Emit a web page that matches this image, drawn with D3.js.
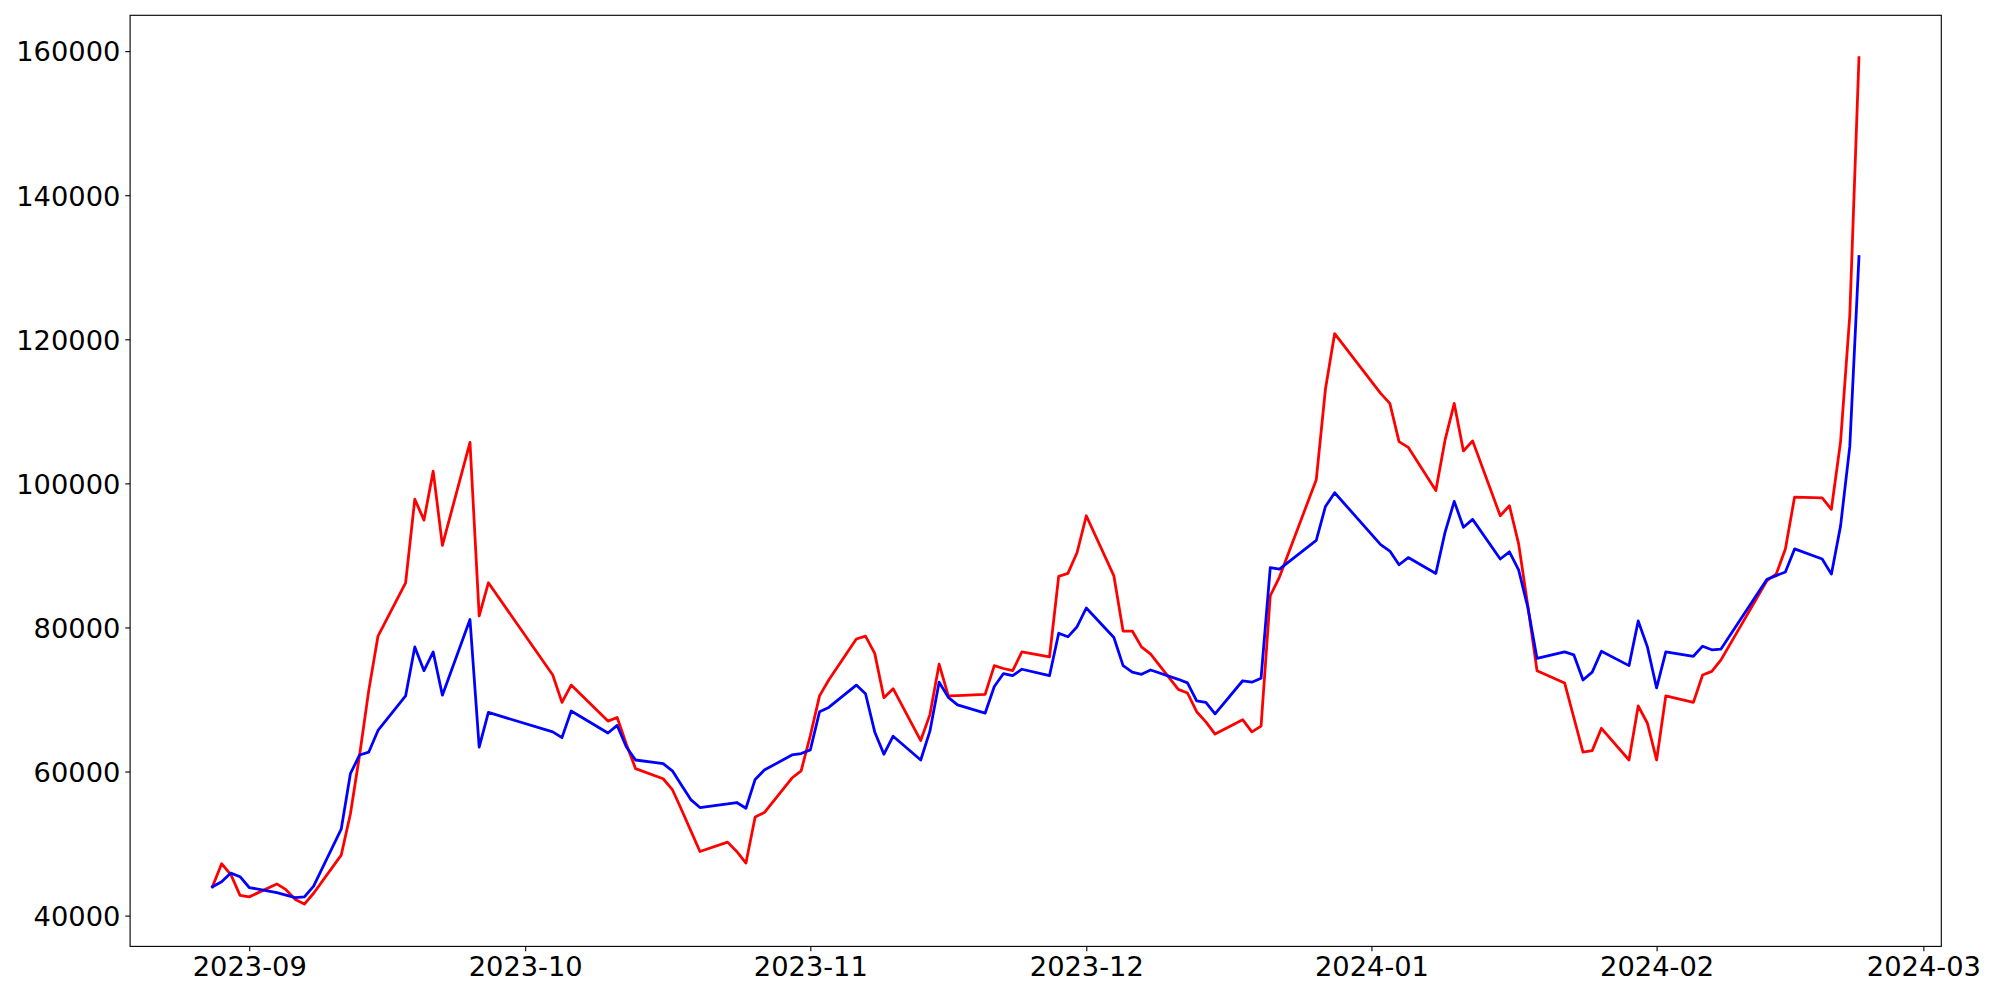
<!DOCTYPE html>
<html>
<head>
<meta charset="utf-8">
<script src="https://cdn.jsdelivr.net/npm/d3@7"></script>
<style>
  html, body { margin: 0; padding: 0; background: #ffffff; }
  svg { display: block; }
</style>
</head>
<body>
<svg id="chart" width="2000" height="1000"></svg>
<script>
// ---- Data (KRX trading days) ----
const dates = [
  "2023-08-28","2023-08-29","2023-08-30","2023-08-31",
  "2023-09-01","2023-09-04","2023-09-05","2023-09-06","2023-09-07","2023-09-08",
  "2023-09-11","2023-09-12","2023-09-13","2023-09-14","2023-09-15",
  "2023-09-18","2023-09-19","2023-09-20","2023-09-21","2023-09-22",
  "2023-09-25","2023-09-26","2023-09-27",
  "2023-10-04","2023-10-05","2023-10-06",
  "2023-10-10","2023-10-11","2023-10-12","2023-10-13",
  "2023-10-16","2023-10-17","2023-10-18","2023-10-19","2023-10-20",
  "2023-10-23","2023-10-24","2023-10-25","2023-10-26","2023-10-27",
  "2023-10-30","2023-10-31","2023-11-01","2023-11-02","2023-11-03",
  "2023-11-06","2023-11-07","2023-11-08","2023-11-09","2023-11-10",
  "2023-11-13","2023-11-14","2023-11-15","2023-11-16","2023-11-17",
  "2023-11-20","2023-11-21","2023-11-22","2023-11-23","2023-11-24",
  "2023-11-27","2023-11-28","2023-11-29","2023-11-30","2023-12-01",
  "2023-12-04","2023-12-05","2023-12-06","2023-12-07","2023-12-08",
  "2023-12-11","2023-12-12","2023-12-13","2023-12-14","2023-12-15",
  "2023-12-18","2023-12-19","2023-12-20","2023-12-21","2023-12-22",
  "2023-12-26","2023-12-27","2023-12-28",
  "2024-01-02","2024-01-03","2024-01-04","2024-01-05",
  "2024-01-08","2024-01-09","2024-01-10","2024-01-11","2024-01-12",
  "2024-01-15","2024-01-16","2024-01-17","2024-01-18","2024-01-19",
  "2024-01-22","2024-01-23","2024-01-24","2024-01-25","2024-01-26",
  "2024-01-29","2024-01-30","2024-01-31","2024-02-01","2024-02-02",
  "2024-02-05","2024-02-06","2024-02-07","2024-02-08",
  "2024-02-13","2024-02-14","2024-02-15","2024-02-16",
  "2024-02-19","2024-02-20","2024-02-21","2024-02-22","2024-02-23"
];

const redValues = [
  44000, 47200, 45700, 42800,
  42600, 44400, 43600, 42250, 41600, 43100,
  48400, 54100, 62300, 71300, 78800,
  86200, 97800, 94900, 101700, 91400,
  105700, 81600, 86200,
  73400, 69600, 72000,
  67000, 67500, 63800, 60400,
  59000, 57500, 54700, 51800, 48900,
  50200, 48900, 47300, 53700, 54300,
  59100, 60100, 65000, 70500, 72700,
  78400, 78800, 76400, 70250, 71500,
  64300, 67900, 74900, 70500, 70550,
  70700, 74700, 74300, 74000, 76600,
  75900, 87100, 87500, 90400, 95500,
  87150, 79500, 79500, 77300, 76300,
  71400, 70900, 68300, 66900, 65200,
  67200, 65500, 66300, 84400, 87000,
  100500, 113100, 120800,
  112500, 111100, 105800, 105000,
  99000, 106000, 111100, 104500, 105900,
  95500, 96900, 91600, 83000, 74000,
  72300, 67500, 62700, 62900, 66000,
  61600, 69100, 66700, 61600, 70500,
  69600, 73400, 73900, 75500,
  86500, 87400, 90900, 98100,
  98000, 96400, 105800, 123300, 159100
];

const blueValues = [
  44000, 44700, 45900, 45400,
  43900, 43200, 42850, 42500, 42600, 44100,
  52000, 59700, 62300, 62700, 65700,
  70500, 77300, 74000, 76600, 70600,
  81100, 63400, 68200,
  65500, 64700, 68400,
  65350, 66400, 63400, 61600,
  61100, 60100, 58100, 56100, 55000,
  55500, 55700, 54900, 58900, 60200,
  62300, 62500, 63000, 68300, 68900,
  72000, 70800, 65500, 62400, 64900,
  61600, 65600, 72400, 70300, 69250,
  68100, 71800, 73600, 73300, 74200,
  73300, 79200, 78700, 80100, 82700,
  78600, 74700, 73800, 73500, 74100,
  72800, 72300, 69800, 69600, 68000,
  72600, 72400, 72950, 88300, 88100,
  92100, 96800, 98700,
  91500, 90600, 88700, 89700,
  87500, 93200, 97500, 93900, 95000,
  89500, 90500, 88000, 82800, 75700,
  76600, 76200, 72700, 73800, 76700,
  74700, 80900, 77300, 71600, 76600,
  76000, 77400, 76900, 77000,
  86700, 87200, 87700, 90900,
  89500, 87400, 94100, 105100, 131500
];

const yTicks = [40000, 60000, 80000, 100000, 120000, 140000, 160000];
const xTickLabels = ["2023-09","2023-10","2023-11","2023-12","2024-01","2024-02","2024-03"];

// ---- Layout ----
const W = 2000, H = 1000;
const plot = { left: 130.1, top: 15.3, right: 1941.3, bottom: 946.4 };
const FONT = "'DejaVu Sans', sans-serif";
const FS = 27.3;
const tickLen = 4.86, tickPad = 4.86;

const parse = d3.timeParse("%Y-%m-%d");
const parseM = d3.timeParse("%Y-%m");
const xs = dates.map(parse);

const svg = d3.select("#chart");
svg.append("rect").attr("width", W).attr("height", H).attr("fill", "#ffffff");

// x domain with 5% margins
const [x0, x1] = d3.extent(xs);
const xpad = (x1 - x0) * 0.05;
const x = d3.scaleTime()
  .domain([new Date(+x0 - xpad), new Date(+x1 + xpad)])
  .range([plot.left, plot.right]);

const allY = redValues.concat(blueValues);
const [y0, y1] = d3.extent(allY);
const ypad = (y1 - y0) * 0.05;
const y = d3.scaleLinear()
  .domain([y0 - ypad, y1 + ypad])
  .range([plot.bottom, plot.top]);

// Lines
const line = d3.line()
  .x((d, i) => x(xs[i]))
  .y(d => y(d));

svg.append("path")
  .datum(redValues)
  .attr("d", line)
  .attr("fill", "none")
  .attr("stroke", "#ff0000")
  .attr("stroke-width", 2.78)
  .attr("stroke-linejoin", "round")
  .attr("stroke-linecap", "square");

svg.append("path")
  .datum(blueValues)
  .attr("d", line)
  .attr("fill", "none")
  .attr("stroke", "#0000ff")
  .attr("stroke-width", 2.78)
  .attr("stroke-linejoin", "round")
  .attr("stroke-linecap", "square");

// Axes via d3
const xTickDates = xTickLabels.map(parseM);
const xAxis = d3.axisBottom(x)
  .tickValues(xTickDates)
  .tickFormat(d3.timeFormat("%Y-%m"))
  .tickSize(tickLen)
  .tickPadding(tickPad);

const yAxis = d3.axisLeft(y)
  .tickValues(yTicks)
  .tickFormat(d3.format("d"))
  .tickSize(tickLen)
  .tickPadding(tickPad);

const gx = svg.append("g")
  .attr("transform", `translate(0,${plot.bottom})`)
  .call(xAxis);
const gy = svg.append("g")
  .attr("transform", `translate(${plot.left},0)`)
  .call(yAxis);

[gx, gy].forEach(g => {
  g.select(".domain").remove();
  g.selectAll(".tick line").attr("stroke", "#000").attr("stroke-width", 1.11);
  g.selectAll(".tick text")
    .attr("fill", "#000")
    .style("font-family", FONT)
    .style("font-size", FS + "px");
});
gx.selectAll(".tick text").attr("dy", null).attr("y", tickLen + tickPad)
  .attr("dominant-baseline", "hanging");
gy.selectAll(".tick text").attr("dy", "0.36em");

// Frame (spines)
svg.append("rect")
  .attr("x", plot.left).attr("y", plot.top)
  .attr("width", plot.right - plot.left).attr("height", plot.bottom - plot.top)
  .attr("fill", "none").attr("stroke", "#000").attr("stroke-width", 1.11);
</script>
</body>
</html>
